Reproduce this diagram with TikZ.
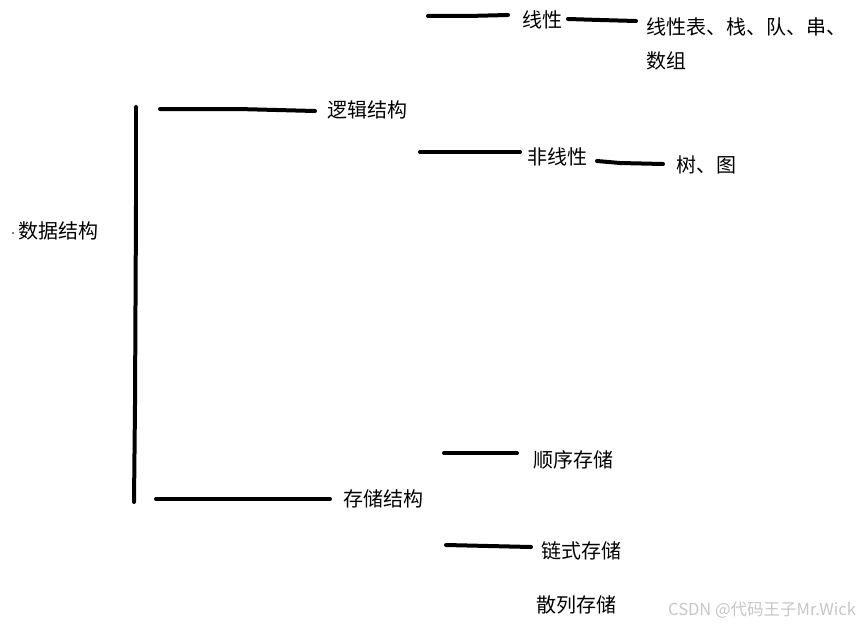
\documentclass[tikz,border=0pt]{standalone}
\usepackage{fontspec}
\setmainfont{Noto Sans CJK SC}
\begin{document}
\begin{tikzpicture}[x=1pt,y=-1pt,
  lbl/.style={anchor=west,inner sep=0pt,font=\fontsize{20}{24}\selectfont},
  bar/.style={line width=4pt,line cap=round},
  wm/.style={anchor=west,inner sep=0pt,text=black!22,font=\fontsize{16.5}{18}\selectfont}]
\useasboundingbox[fill=white] (0,0) rectangle (862,626);
% labels
\node[lbl] (ds) at (18,231) {数据结构};
\node[lbl] (lj) at (327,110) {逻辑结构};
\node[lbl] (cc) at (343,499) {存储结构};
\node[lbl] (xx) at (522,20) {线性};
\node[lbl] (xl) at (646,27) {线性表、栈、队、串、};
\node[lbl] (sz) at (646,61) {数组};
\node[lbl] (fx) at (527,157) {非线性};
\node[lbl] (st) at (676,165) {树、图};
\node[lbl] (sx) at (533,460) {顺序存储};
\node[lbl] (ls) at (541,551) {链式存储};
\node[lbl] (sl) at (536,605) {散列存储};
\node[wm] (mark) at (668,610) {CSDN @代码王子Mr.Wick};
\fill (13,233) circle (0.9pt);
% coordinates for the hand-drawn strokes
\coordinate (v1) at (136,107);
\coordinate (v2) at (136,205);
\coordinate (v3) at (135,405);
\coordinate (v4) at (134,502);
\coordinate (a1) at (160,109);
\coordinate (a2) at (238,109);
\coordinate (a3) at (315,111);
\coordinate (b1) at (156,499);
\coordinate (b2) at (330,499);
\coordinate (c1) at (428,16);
\coordinate (c2) at (468,16);
\coordinate (c3) at (508,15);
\coordinate (d1) at (568,19);
\coordinate (d2) at (600,20);
\coordinate (d3) at (636,21);
\coordinate (e1) at (420,152);
\coordinate (e2) at (520,152);
\coordinate (f1) at (597,161);
\coordinate (f2) at (620,163);
\coordinate (f3) at (663,164);
\coordinate (g1) at (444,453);
\coordinate (g2) at (517,453);
\coordinate (h1) at (446,545);
\coordinate (h2) at (531,547);
\draw[bar] (v1) -- (v2);
\draw[bar] (v2) -- (v3);
\draw[bar] (v3) -- (v4);
\draw[bar] (a1) -- (a2) -- (a3);
\draw[bar] (b1) -- (b2);
\draw[bar] (c1) -- (c2) -- (c3);
\draw[bar] (d1) -- (d2) -- (d3);
\draw[bar] (e1) -- (e2);
\draw[bar] (f1) -- (f2) -- (f3);
\draw[bar] (g1) -- (g2);
\draw[bar] (h1) -- (h2);
\end{tikzpicture}
\end{document}
